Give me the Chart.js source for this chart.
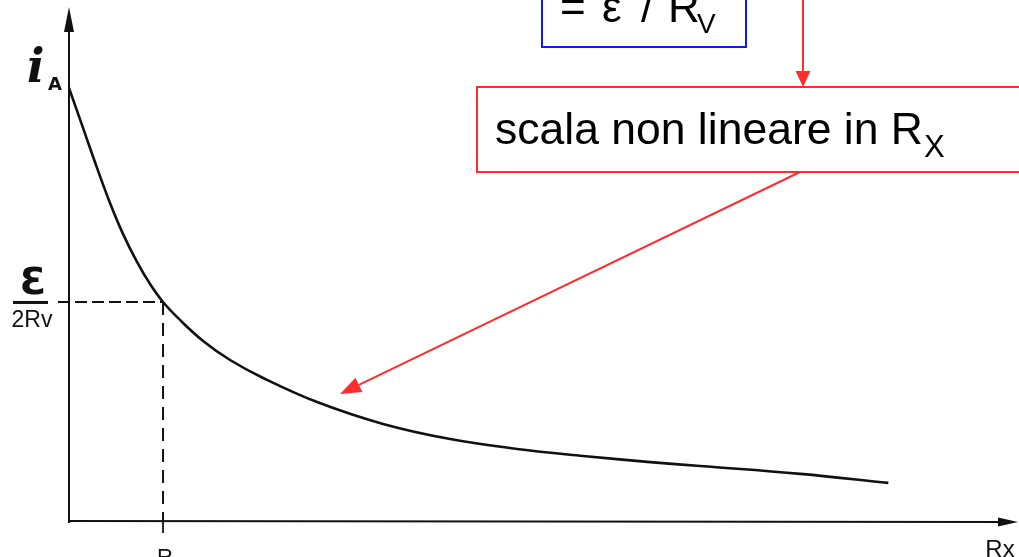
<!DOCTYPE html>
<html>
<head>
<meta charset="utf-8">
<script src="https://cdn.jsdelivr.net/npm/chart.js@4"></script>
<style>
  body { margin: 0; background: #fff; }
  #wrap { width: 1019px; height: 557px; position: relative; }
</style>
</head>
<body>
<div id="wrap"><canvas id="curveChart"></canvas></div>
<script>
// Rx in units of R (= Rv), i_A in units of eps / 2Rv
const rxValues = [0, 0.149, 0.298, 0.436, 0.574, 0.723, 0.862, 1.0, 1.18, 1.426, 1.713, 2.064, 2.638, 3.34, 4.053, 4.766, 5.468, 6.181, 6.713, 7.777, 8.713]
const iaValues = [1.977, 1.795, 1.612, 1.452, 1.311, 1.183, 1.082, 1.0, 0.918, 0.822, 0.735, 0.653, 0.543, 0.443, 0.374, 0.329, 0.297, 0.269, 0.251, 0.215, 0.174]

// guide lines at Rx = R, i_A = eps / 2Rv
const markRx = 1.0
const markIa = 1.0
const guideStartRx = -0.117

const axisLabels = { y: 'i', ySub: 'A', x: 'Rx', mark: 'R', fracTop: 'Ɛ', fracBottom: '2Rv' }

const xMax = 10.06
const yMax = 2.333

const red = 'rgb(255, 45, 45)'
const blue = 'rgb(20, 20, 255)'

const arrow = (ctx, x1, y1, x2, y2, headLen, headW, color) => {
    const ang = Math.atan2(y2 - y1, x2 - x1)
    const bx = x2 - headLen * Math.cos(ang)
    const by = y2 - headLen * Math.sin(ang)
    ctx.strokeStyle = color
    ctx.fillStyle = color
    ctx.beginPath()
    ctx.moveTo(x1, y1)
    ctx.lineTo(bx, by)
    ctx.stroke()
    ctx.beginPath()
    ctx.moveTo(x2, y2)
    ctx.lineTo(bx + headW / 2 * Math.sin(ang), by - headW / 2 * Math.cos(ang))
    ctx.lineTo(bx - headW / 2 * Math.sin(ang), by + headW / 2 * Math.cos(ang))
    ctx.closePath()
    ctx.fill()
}

const drawing = {
    id: 'drawing',
    afterDatasetsDraw(chart) {
        const ctx = chart.ctx
        const xs = chart.scales.x
        const ys = chart.scales.y
        const x0 = xs.getPixelForValue(0)
        const y0 = ys.getPixelForValue(0)
        ctx.save()

        // axes with arrow heads
        ctx.lineWidth = 2
        arrow(ctx, x0, y0 + 2, x0, 7, 25, 10, '#111')
        arrow(ctx, x0 - 1, y0, chart.width - 1, y0 + 1, 20, 9, '#111')

        // tick under R
        const xr = xs.getPixelForValue(markRx)
        ctx.lineWidth = 1.8
        ctx.beginPath()
        ctx.moveTo(xr, y0)
        ctx.lineTo(xr, y0 + 12)
        ctx.stroke()

        // axis labels
        ctx.fillStyle = '#111'
        ctx.font = 'bold italic 46px "DejaVu Serif"'
        ctx.textBaseline = 'alphabetic'
        ctx.fillText(axisLabels.y, 27, 82)
        ctx.font = 'bold 18px "DejaVu Sans"'
        ctx.fillText(axisLabels.ySub, 48, 90)

        ctx.font = '22px "Liberation Sans"'
        ctx.textAlign = 'center'
        ctx.fillText(axisLabels.mark, xr + 2, 564)
        ctx.font = '24px "Liberation Sans"'
        ctx.fillText(axisLabels.x, 1000, 557)

        // fraction eps / 2Rv
        const ym = ys.getPixelForValue(markIa)
        ctx.font = 'bold 38px "DejaVu Sans"'
        ctx.fillText(axisLabels.fracTop, 33, ym - 8)
        ctx.fillRect(13, ym - 1, 35, 3)
        ctx.font = '23px "Liberation Sans"'
        ctx.fillText(axisLabels.fracBottom, 32, ym + 25)
        ctx.textAlign = 'left'

        // blue callout (cut by top edge)
        ctx.strokeStyle = blue
        ctx.lineWidth = 2
        ctx.strokeRect(542, -10, 204, 57)
        ctx.fillStyle = '#000'
        ctx.font = '44px "Liberation Sans"'
        ctx.fillText('=', 560, 22)
        ctx.fillText('ε', 602, 22)
        ctx.fillText('/', 641, 22)
        ctx.fillText('R', 668, 22)
        ctx.font = '28px "Liberation Sans"'
        ctx.fillText('V', 697, 33)

        // red callout
        ctx.strokeStyle = red
        ctx.strokeRect(477, 87, 560, 85)
        ctx.fillStyle = '#000'
        ctx.font = '44.5px "Liberation Sans"'
        ctx.fillText('scala non lineare in R', 495, 144)
        const w = ctx.measureText('scala non lineare in R').width
        ctx.font = '31px "Liberation Sans"'
        ctx.fillText('X', 495 + w + 1, 157)

        // red arrows
        ctx.lineWidth = 2
        arrow(ctx, 803, 0, 803, 87, 16, 15, red)
        arrow(ctx, 800, 172, 340, 394, 21, 16, red)

        ctx.restore()
    }
}

const config = {
    type: 'line',
    data: {
        datasets: [
            {
                data: rxValues.map((x, i) => ({ x: x, y: iaValues[i] })),
                borderColor: '#111',
                borderWidth: 2.6,
                pointRadius: 0,
                tension: 0.4,
                fill: false
            },
            {
                data: [{ x: guideStartRx, y: markIa }, { x: markRx, y: markIa }],
                borderColor: '#111',
                borderWidth: 2,
                borderDash: [12, 5],
                pointRadius: 0,
                clip: false
            },
            {
                data: [{ x: markRx, y: markIa }, { x: markRx, y: 0 }],
                borderColor: '#111',
                borderWidth: 2,
                borderDash: [13, 8],
                pointRadius: 0,
                clip: false
            }
        ]
    },
    options: {
        responsive: true,
        maintainAspectRatio: false,
        animation: false,
        layout: { padding: { left: 69, right: 4, top: 10, bottom: 36 } },
        plugins: { legend: { display: false }, tooltip: { enabled: false } },
        scales: {
            x: { type: 'linear', min: 0, max: xMax, display: false },
            y: { type: 'linear', min: 0, max: yMax, display: false }
        }
    },
    plugins: [drawing]
}

new Chart(document.getElementById('curveChart'), config)
</script>
</body>
</html>
